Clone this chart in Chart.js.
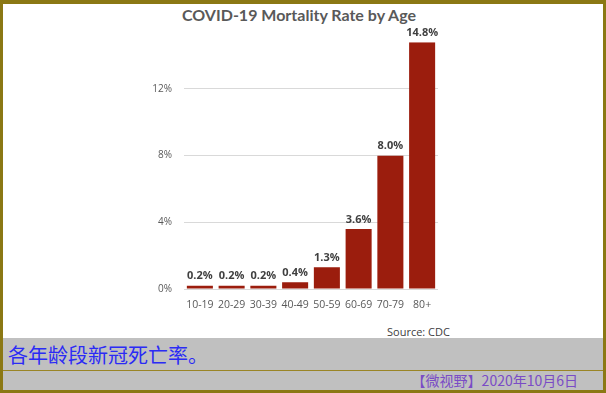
<!DOCTYPE html>
<html>
<head>
<meta charset="utf-8">
<script src="https://cdn.jsdelivr.net/npm/chart.js@4"></script>
<style>
  html, body { margin:0; padding:0; }
  body { width:606px; height:393px; background:#8b7814; position:relative; overflow:hidden; }
  .abs { position:absolute; }
  #white { left:3px; top:4px; width:600px; height:334px; background:#fff; }
  #band1 { left:3px; top:338px; width:600px; height:32px; background:#c0c0c0; }
  #line { left:3px; top:370px; width:600px; height:1px; background:#9a8526; }
  #band2 { left:3px; top:371px; width:600px; height:19px; background:#c0c0c0; }
  #title { left:0; width:598px; top:5px; text-align:center; font:bold 16px Lato, sans-serif; line-height:19px; color:#595959; white-space:nowrap; }
  #source { left:387px; top:324px; font:11px "Open Sans", sans-serif; color:#404040; white-space:nowrap; }
  #caption { left:8px; top:342px; font:20px "Noto Sans CJK SC", sans-serif; color:#2b2bf5; line-height:25px; white-space:nowrap; }
  #date { right:28px; top:372px; font:14px "Noto Sans CJK SC", sans-serif; color:#7a4cc6; line-height:17px; white-space:nowrap; }
  #c { left:0; top:0; }
</style>
</head>
<body>
<div id="white" class="abs"></div>
<div id="band1" class="abs"></div>
<div id="line" class="abs"></div>
<div id="band2" class="abs"></div>
<div id="title" class="abs">COVID-19 Mortality Rate by Age</div>
<div id="source" class="abs">Source: CDC</div>
<div id="caption" class="abs">各年龄段新冠死亡率。</div>
<div id="date" class="abs">【微视野】2020年10月6日</div>
<canvas id="c" class="abs" width="606" height="393"></canvas>
<script>
const ageGroups = ["10-19", "20-29", "30-39", "40-49", "50-59", "60-69", "70-79", "80+"];
const mortalityRates = [0.2, 0.2, 0.2, 0.4, 1.3, 3.6, 8.0, 14.8];
const yTicks = [0, 4, 8, 12];

const valueLabels = {
  id: 'valueLabels',
  afterDatasetsDraw(chart) {
    const ctx = chart.ctx;
    const meta = chart.getDatasetMeta(0);
    ctx.save();
    ctx.font = 'bold 11px "Open Sans", sans-serif';
    ctx.fillStyle = '#404040';
    ctx.textAlign = 'center';
    ctx.textBaseline = 'bottom';
    meta.data.forEach((bar, i) => {
      ctx.fillText(mortalityRates[i].toFixed(1) + '%', bar.x, bar.y - 4);
    });
    ctx.restore();
  }
};

new Chart(document.getElementById('c'), {
  type: 'bar',
  data: {
    labels: ageGroups,
    datasets: [{
      data: mortalityRates,
      backgroundColor: '#9b1d0d',
      barPercentage: 0.82,
      categoryPercentage: 1.0
    }]
  },
  options: {
    responsive: false,
    animation: false,
    devicePixelRatio: 1,
    layout: { padding: { left: 0, right: 168, top: 42.3, bottom: 80 } },
    plugins: { legend: { display: false }, tooltip: { enabled: false }, title: { display: false } },
    scales: {
      x: {
        grid: { display: false, drawTicks: false },
        border: { display: false },
        ticks: { color: '#595959', font: { family: 'Open Sans', size: 10.5 }, padding: 10, maxRotation: 0 },
        afterFit(s) { s.height = 24; }
      },
      y: {
        min: 0,
        max: 14.8,
        afterBuildTicks(s) { s.ticks = yTicks.map(v => ({ value: v })); },
        grid: { color: '#d9d9d9', drawTicks: false },
        border: { display: false },
        ticks: { color: '#595959', font: { family: 'Open Sans', size: 10 }, padding: 12, callback: v => v + '%' },
        afterFit(s) { s.width = 184; }
      }
    }
  },
  plugins: [valueLabels]
});
</script>
</body>
</html>
